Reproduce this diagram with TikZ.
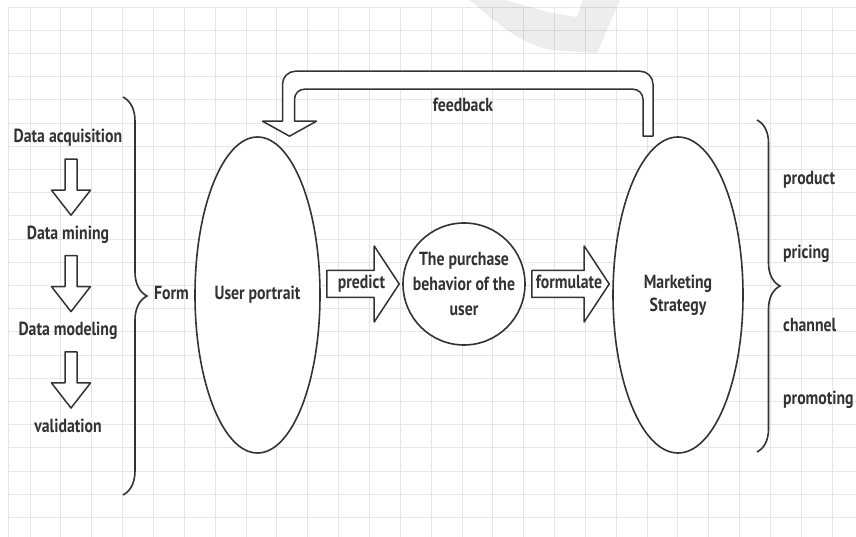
\documentclass[tikz,border=0pt]{standalone}
\usepackage{fontspec}
\setmainfont{PT Sans}[FakeStretch=0.83]
\usetikzlibrary{shapes.geometric, positioning, calc, decorations.pathreplacing}
\definecolor{ink}{HTML}{333333}
\definecolor{gridgray}{HTML}{E6E6E6}
\tikzset{
  lbl/.style={text=ink, font=\fontsize{19}{24}\selectfont\bfseries, inner sep=0pt, text height=13pt, text depth=3pt},
  oval/.style={ellipse, draw=ink, fill=white, line width=1.6pt, text=ink, align=center, font=\fontsize{19}{23}\selectfont\bfseries, inner sep=0pt},
  ring/.style={circle, draw=ink, fill=white, line width=1.6pt, text=ink, align=center, font=\fontsize{19}{25}\selectfont\bfseries, inner sep=0pt, minimum size=122pt},
  fat/.style={draw=ink, fill=white, line width=1.5pt, line join=round},
  fatdown/.style={to path={let \p1=($(\tikztostart)+(3,-13)$), \p2=($(\tikztotarget)+(3,11)$) in
    ({\x1-6pt},\y1) -- ({\x1-6pt},{\y2+25pt}) -- ({\x1-19.5pt},{\y2+25pt}) -- (\x1,\y2)
    -- ({\x1+19.5pt},{\y2+25pt}) -- ({\x1+6pt},{\y2+25pt}) -- ({\x1+6pt},\y1) -- cycle}},
  fatright/.style={to path={let \p1=(\tikztostart), \p2=(\tikztotarget) in
    ({\x1+6pt},{\y1+13.5pt}) -- ({\x2-28pt},{\y1+13.5pt}) -- ({\x2-28pt},{\y1+38pt}) -- ({\x2-3pt},\y1)
    -- ({\x2-28pt},{\y1-38pt}) -- ({\x2-28pt},{\y1-13.5pt}) -- ({\x1+6pt},{\y1-13.5pt}) -- cycle}},
  curly/.style={draw=ink, line width=1.6pt, decorate, decoration={brace, amplitude=#1}},
  gridline/.style={draw=gridgray, line width=0.8pt},
}

\begin{document}
\begin{tikzpicture}[x=1pt, y=1pt]
  \useasboundingbox (0,0) rectangle (856,537);
  \fill[white] (0,0) rectangle (856,537);
  % background grid
  \foreach \k in {0,...,22} \draw[gridline] (8,{530-23.2*\k}) -- (856,{530-23.2*\k});
  \draw[gridline] (8,0) -- (8,530);
  \foreach \k in {0,...,26} \draw[gridline] ({30+30.85*\k},0) -- ({30+30.85*\k},530);
  % watermark
  \fill[black, opacity=0.07] (470,537) .. controls (500,510) and (525,492) .. (550,487) -- (597,484)
    -- (620,537) -- (583,537) -- (577,520) .. controls (550,524) .. (505,537) -- cycle;

  % left column
  \node[lbl] (acq) at (68,399) {Data acquisition};
  \node[lbl, below=80pt of acq] (mining) {Data mining};
  \node[lbl, below=80pt of mining] (modeling) {Data modeling};
  \node[lbl, below=80pt of modeling] (valid) {validation};
  \draw[fat] (acq.south) to[fatdown] (mining.north);
  \draw[fat] (mining.south) to[fatdown] (modeling.north);
  \draw[fat] (modeling.south) to[fatdown] (valid.north);

  \coordinate (lbtop) at (123,440);
  \coordinate (lbbot) at (123,42);
  \draw[curly=24pt] (lbtop) -- (lbbot);
  \node[lbl, anchor=west] (form) at (154,242) {Form};

  % main flow
  \node[oval, minimum width=125pt, minimum height=316pt] (user) at (257.5,242) {User portrait};
  \node[ring] (purchase) at (464,253) {The purchase\\behavior of the\\user};
  \node[oval, minimum width=130pt, minimum height=316pt] (strategy) at (678,242) {Marketing\\Strategy};

  \draw[fat] (user.east |- purchase.west) to[fatright] (purchase.west);
  \node[lbl] (predtext) at ($(user.east |- purchase.west)!0.5!(purchase.west)$) {predict};
  \draw[fat] (purchase.east) to[fatright] (strategy.west |- purchase.east);
  \node[lbl] (formtext) at ($(purchase.east)!0.5!(strategy.west |- purchase.east)$) {formulate};

  % feedback loop
  \coordinate (fbfrom) at ([xshift=-30pt]strategy.north);
  \coordinate (fbto) at ([xshift=32pt]user.north);
  \draw[fat] let \p1=(fbfrom), \p2=(fbto) in
    ({\x1-5pt},\y1) -- ({\x1-5pt},{\y1+37pt}) arc[start angle=0, end angle=90, radius=10pt]
    -- ({\x2+15pt},{\y1+47pt}) arc[start angle=90, end angle=180, radius=10pt]
    -- ({\x2+5pt},{\y2+15pt}) -- ({\x2+27pt},{\y2+15pt}) -- (\x2,\y2) -- ({\x2-27pt},{\y2+15pt})
    -- ({\x2-7pt},{\y2+15pt}) -- ({\x2-7pt},{\y1+52pt}) arc[start angle=180, end angle=90, radius=13pt]
    -- ({\x1-8pt},{\y1+65pt}) arc[start angle=90, end angle=0, radius=13pt]
    -- ({\x1+5pt},\y1) -- cycle;
  \node[lbl] (fbtext) at (463,430) {feedback};

  % right column
  \coordinate (rbtop) at (757,417);
  \coordinate (rbbot) at (757,85);
  \draw[curly=23pt] (rbtop) -- (rbbot);
  \foreach \t [count=\i] in {product, pricing, channel, promoting}
    \node[lbl, anchor=west] (\t) at (783,{357-73.3*(\i-1)}) {\t};
\end{tikzpicture}
\end{document}
